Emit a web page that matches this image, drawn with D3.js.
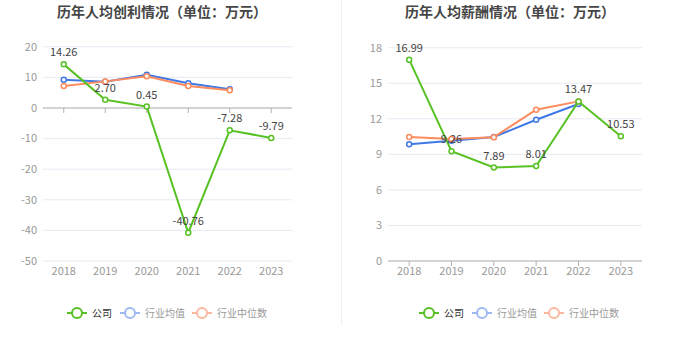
<!DOCTYPE html>
<html><head><meta charset="utf-8">
<script src="https://cdn.jsdelivr.net/npm/d3@7"></script>
<style>body{margin:0;background:#fff;}svg{display:block;font-family:"Noto Sans CJK SC","Noto Sans",sans-serif;}</style>
</head><body>
<svg id="c" width="680" height="349"></svg>
<script>
const years = ["2018","2019","2020","2021","2022","2023"];
const seriesNames = ["公司","行业均值","行业中位数"];
// 历年人均创利
const profitCompany = [14.26, 2.70, 0.45, -40.76, -7.28, -9.79];
const profitAvg = [9.2, 8.6, 10.9, 8.1, 6.1, null];
const profitMedian = [7.2, 8.7, 10.4, 7.2, 5.8, null];
const profitTicks = [-50,-40,-30,-20,-10,0,10,20];
// 历年人均薪酬
const salaryCompany = [16.99, 9.26, 7.89, 8.01, 13.47, 10.53];
const salaryAvg = [9.86, 10.15, 10.46, 11.92, 13.25, null];
const salaryMedian = [10.46, 10.29, 10.45, 12.77, 13.47, null];
const salaryTicks = [0,3,6,9,12,15,18];

const colors = ["#58c225","#4079e6","#fd8b5d"];
const legendColors = ["#58c225","#9cb9f3","#fcb9a0"];
const svg = d3.select("#c");

// divider
svg.append("line").attr("x1",341.5).attr("x2",341.5).attr("y1",0).attr("y2",325)
  .attr("stroke","#f0f0f0").attr("stroke-width",1);

function drawChart(o){
  const g = svg.append("g");
  g.append("text").attr("x",o.cx).attr("y",17).attr("text-anchor","middle")
    .attr("font-size",14).attr("font-weight","bold").attr("fill","#464646").text(o.title);
  const x = d3.scaleBand().domain(years).range([o.x0,o.x1]);
  const y = d3.scaleLinear().domain(o.domain).range([o.y1,o.y0]);
  // grid
  g.selectAll(null).data(o.ticks).join("line")
    .attr("x1",o.x0).attr("x2",o.x1).attr("y1",d=>y(d)).attr("y2",d=>y(d))
    .attr("stroke","#e8e9f3").attr("stroke-width",1);
  // y labels
  g.selectAll(null).data(o.ticks).join("text")
    .attr("x",o.x0-6).attr("y",d=>y(d)).attr("dy","0.35em").attr("text-anchor","end")
    .attr("font-size",11).attr("fill","#999").text(d=>d);
  // x axis line at 0
  const y0 = y(0);
  g.append("line").attr("x1",o.x0).attr("x2",o.x1).attr("y1",y0).attr("y2",y0)
    .attr("stroke","#b3b3b3").attr("stroke-width",1);
  g.selectAll(null).data(years).join("line")
    .attr("x1",d=>x(d)+x.bandwidth()/2).attr("x2",d=>x(d)+x.bandwidth()/2)
    .attr("y1",y0).attr("y2",y0+5).attr("stroke","#b3b3b3");
  g.selectAll(null).data(years).join("text")
    .attr("x",d=>x(d)+x.bandwidth()/2).attr("y",o.y1+10).attr("dy","0.35em")
    .attr("text-anchor","middle").attr("font-size",11).attr("fill","#999").text(d=>d);
  const cx = (d,i)=>x(years[i])+x.bandwidth()/2;
  const order = [1,2,0];
  order.forEach(si=>{
    const data = o.series[si];
    const line = d3.line().defined(d=>d!=null).x(cx).y(d=>y(d));
    g.append("path").datum(data).attr("d",line).attr("fill","none")
      .attr("stroke",colors[si]).attr("stroke-width",2);
    g.selectAll(null).data(data.map((v,i)=>({v,i})).filter(d=>d.v!=null)).join("circle")
      .attr("cx",d=>cx(d.v,d.i)).attr("cy",d=>y(d.v)).attr("r",2.5)
      .attr("fill","#fff").attr("stroke",colors[si]).attr("stroke-width",1.5);
  });
  // labels for company
  g.selectAll(null).data(o.series[0]).join("text")
    .attr("x",(d,i)=>cx(d,i)).attr("y",d=>y(d)-8).attr("text-anchor","middle")
    .attr("font-size",11).attr("fill","#444").text(d=>d.toFixed(2));
  // legend
  const offs = [0,53,125];
  offs.forEach((dx,i)=>{
    const lx = o.legX + dx;
    g.append("line").attr("x1",lx).attr("x2",lx+20).attr("y1",313).attr("y2",313)
      .attr("stroke",legendColors[i]).attr("stroke-width",2);
    g.append("circle").attr("cx",lx+10).attr("cy",313).attr("r",5)
      .attr("fill","#fff").attr("stroke",legendColors[i]).attr("stroke-width",2);
    g.append("text").attr("x",lx+25).attr("y",313).attr("dy","0.35em")
      .attr("font-size",10).attr("fill",i===0?"#333":"#999").text(seriesNames[i]);
  });
}

drawChart({title:"历年人均创利情况（单位：万元）",cx:162,x0:43,x1:292,y0:46.8,y1:261,
  domain:[-50,20],ticks:profitTicks,series:[profitCompany,profitAvg,profitMedian],legX:67});
drawChart({title:"历年人均薪酬情况（单位：万元）",cx:510,x0:388,x1:642,y0:47.7,y1:261,
  domain:[0,18],ticks:salaryTicks,series:[salaryCompany,salaryAvg,salaryMedian],legX:419});
</script>
</body></html>
